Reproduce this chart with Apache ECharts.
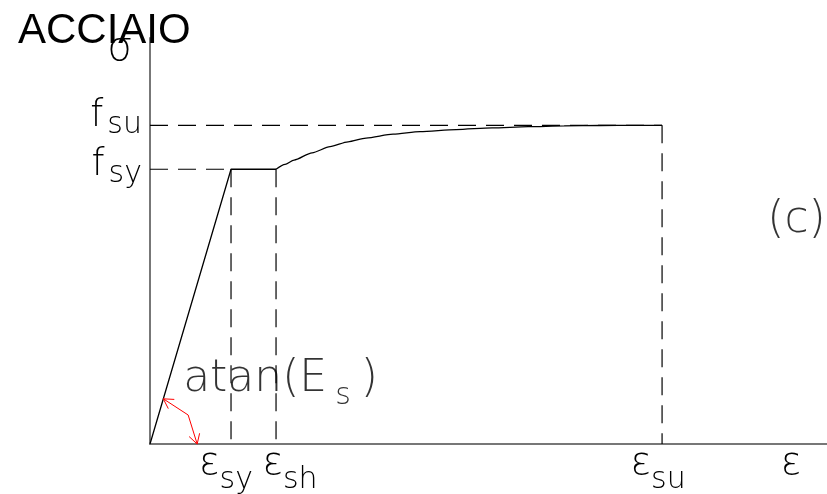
<!DOCTYPE html>
<html>
<head>
<meta charset="utf-8">
<script src="https://cdn.jsdelivr.net/npm/echarts@6/dist/echarts.min.js"></script>
<style>
  html, body { margin: 0; padding: 0; background: #fff; }
  #chart { width: 827px; height: 494px; }
</style>
</head>
<body>
<div id="chart"></div>
<script>
// Stress–strain law of reinforcing steel: elastic branch, yield plateau, strain hardening.
// Strain in per-mille, stress in MPa.
const epsSy = 2.25;   // yield strain
const epsSh = 3.5;    // start of strain hardening
const epsSu = 14.22;  // ultimate strain
const fSy = 450;      // yield strength
const fSu = 522;      // ultimate strength
const epsMax = 18.8;  // axis extents
const sigmaMax = 665;

// elastic branch + yield plateau
const elasticPlateau = [[0, 0], [epsSy, fSy], [epsSh, fSy]];
// hardening branch up to (epsSu, fSu)
const hardening = [
  [3.5, 450], [3.75, 458], [4.0, 465], [4.5, 477], [5.0, 487], [5.5, 495],
  [6.0, 501], [6.75, 507.5], [7.5, 511.5], [8.5, 515], [9.5, 517.8],
  [10.5, 519.7], [11.5, 521], [12.5, 521.7], [13.5, 522], [14.22, 522]
];
// angle marker for the elastic modulus
const angleMarker = [[0.37, 74], [1.06, 47.5], [1.31, 0]];

// tick labels
const xLabelValues = [epsSy, epsSh, epsSu];
const xLabelSubs = ['sy', 'sh', 'su'];
const yLabelValues = [fSy, fSu];
const yLabelSubs = ['sy', 'su'];

// annotation anchors
const notePoints = [[0.92, 104], [17.14, 364]];
const noteTexts = ['{m|atan(E}{sa|s}{mp|)}', '{m|(c)}'];

// ---------------------------------------------------------------------------
const CAD = "'DejaVu Sans', 'Noto Sans', sans-serif";
const INK = '#000';
const THIN = 200;

const mainTok = { fontFamily: CAD, fontWeight: THIN, fontSize: 38, lineHeight: 40, color: INK, verticalAlign: 'top' };
const subTok = { fontFamily: CAD, fontWeight: THIN, fontSize: 30, lineHeight: 24, color: INK, verticalAlign: 'top' };

// horizontal nudge of each strain label, px
const xNudge = [-5, 14, -4];
const xRich = {};
xLabelValues.forEach((v, i) => {
  const n = xNudge[i];
  xRich['e' + i] = Object.assign({}, mainTok, { padding: [0, 0, 0, n > 0 ? 2 * n : 0] });
  xRich['s' + i] = Object.assign({}, subTok, { padding: [20, n < 0 ? -2 * n : 0, 0, 0] });
});

const yRich = {
  m: Object.assign({}, mainTok, { fontSize: 37, padding: [0, 4, 0, 0] }),
  s: Object.assign({}, subTok, { padding: [12, 0, 0, 0] })
};

const noteRich = {
  m: Object.assign({}, mainTok, { fontSize: 44, lineHeight: 46 }),
  mp: Object.assign({}, mainTok, { fontSize: 44, lineHeight: 46, padding: [0, 0, 0, 10] }),
  sa: Object.assign({}, subTok, { fontSize: 30, lineHeight: 24, padding: [24, 0, 0, 8] })
};

const solid = { color: '#000', width: 1.3 };
const dashed = { color: '#000', width: 1.2, type: [18, 10] };
const axisStroke = { color: '#777', width: 2 };

// one strain axis per group of labels, so neighbouring labels are never culled
function strainAxis(labelIdx, withLine) {
  const values = labelIdx.map(i => xLabelValues[i]);
  const axis = {
    type: 'value', min: 0, max: epsMax, position: 'bottom',
    axisLine: { show: withLine, onZero: false, lineStyle: axisStroke },
    axisTick: { show: false },
    splitLine: { show: false },
    axisLabel: {
      customValues: values,
      showMinLabel: true, showMaxLabel: true, hideOverlap: false,
      margin: 1,
      formatter: v => {
        const i = xLabelValues.indexOf(v);
        return i < 0 ? '' : '{e' + i + '|ε}{s' + i + '|' + xLabelSubs[i] + '}';
      },
      rich: xRich
    }
  };
  if (withLine) {
    Object.assign(axis, {
      name: 'ε', nameLocation: 'end', nameGap: -36,
      nameTextStyle: {
        fontFamily: CAD, fontWeight: THIN, fontSize: 38, lineHeight: 40, color: INK,
        align: 'center', verticalAlign: 'top'
      }
    });
  }
  return axis;
}

// stress axis; lift = extra bottom padding that raises the label, px
function stressAxis(labelIdx, withLine, lift) {
  const values = labelIdx.map(i => yLabelValues[i]);
  const axis = {
    type: 'value', min: 0, max: sigmaMax, position: 'left',
    axisLine: { show: withLine, onZero: false, lineStyle: axisStroke },
    axisTick: { show: false },
    splitLine: { show: false },
    axisLabel: {
      customValues: values,
      showMinLabel: true, showMaxLabel: true, hideOverlap: false,
      margin: 8,
      padding: [0, 0, lift, 0],
      formatter: v => {
        const i = yLabelValues.indexOf(v);
        return i < 0 ? '' : '{m|f}{s|' + yLabelSubs[i] + '}';
      },
      rich: yRich
    }
  };
  if (withLine) {
    Object.assign(axis, {
      name: 'σ', nameLocation: 'end', nameGap: -12,
      nameTextStyle: {
        fontFamily: CAD, fontWeight: THIN, fontSize: 40, lineHeight: 40, color: INK,
        align: 'center', verticalAlign: 'middle', padding: [0, 60, 0, 0]
      }
    });
  }
  return axis;
}

function guide(points) {
  return {
    type: 'line', data: points, symbol: 'none', silent: true,
    lineStyle: dashed, z: 1
  };
}

function arrowHead(tip, from) {
  const dx = tip[0] - from[0], dy = tip[1] - from[1];
  const L = Math.hypot(dx, dy) || 1;
  const ux = dx / L, uy = dy / L;
  const a = Math.PI / 6, len = 11;
  const arm = s => [
    tip[0] - len * (ux * Math.cos(a) - s * uy * Math.sin(a)),
    tip[1] - len * (uy * Math.cos(a) + s * ux * Math.sin(a))
  ];
  return [arm(1), tip, arm(-1)];
}

const chart = echarts.init(document.getElementById('chart'), null, { renderer: 'canvas' });

chart.setOption({
  animation: false,
  backgroundColor: '#fff',
  title: {
    text: 'ACCIAIO',
    left: 13,
    top: 5,
    z: 10,
    textStyle: { fontFamily: "'Liberation Sans', Arial, sans-serif", fontSize: 42, fontWeight: 'normal', color: '#000', lineHeight: 42 }
  },
  grid: { left: 150, right: 0, top: 38, bottom: 50, containLabel: false, outerBoundsMode: 'none' },
  xAxis: [strainAxis([0, 2], true), strainAxis([1], false)],
  yAxis: [stressAxis([0], true, 5), stressAxis([1], false, 15)],
  series: [
    guide([[0, fSy], [epsSy, fSy]]),
    guide([[0, fSu], [epsSu, fSu]]),
    guide([[epsSy, fSy], [epsSy, 0]]),
    guide([[epsSh, fSy], [epsSh, 0]]),
    guide([[epsSu, fSu], [epsSu, 0]]),
    {
      name: 'elastic-plastic', type: 'line', data: elasticPlateau, symbol: 'none',
      lineStyle: solid, z: 3
    },
    {
      name: 'hardening', type: 'line', data: hardening, symbol: 'none',
      smooth: 0.25, smoothMonotone: 'x', lineStyle: solid, z: 3
    },
    {
      name: 'angle', type: 'custom', z: 4,
      data: [angleMarker.flat()],
      encode: { x: [0, 2, 4], y: [1, 3, 5] },
      renderItem: (params, api) => {
        const pts = [0, 1, 2].map(i => api.coord([api.value(2 * i), api.value(2 * i + 1)]));
        const style = { stroke: '#ff0000', lineWidth: 1, fill: null };
        return {
          type: 'group',
          children: [
            { type: 'polyline', shape: { points: pts }, style },
            { type: 'polyline', shape: { points: arrowHead(pts[0], pts[1]) }, style },
            { type: 'polyline', shape: { points: arrowHead(pts[2], pts[1]) }, style }
          ]
        };
      }
    },
    {
      name: 'notes', type: 'scatter', symbolSize: 0, z: 5,
      itemStyle: { color: 'transparent' },
      data: notePoints,
      label: {
        show: true,
        position: [0, 0],
        align: 'left',
        verticalAlign: 'middle',
        formatter: p => noteTexts[p.dataIndex],
        rich: noteRich
      }
    }
  ]
});
</script>
</body>
</html>
